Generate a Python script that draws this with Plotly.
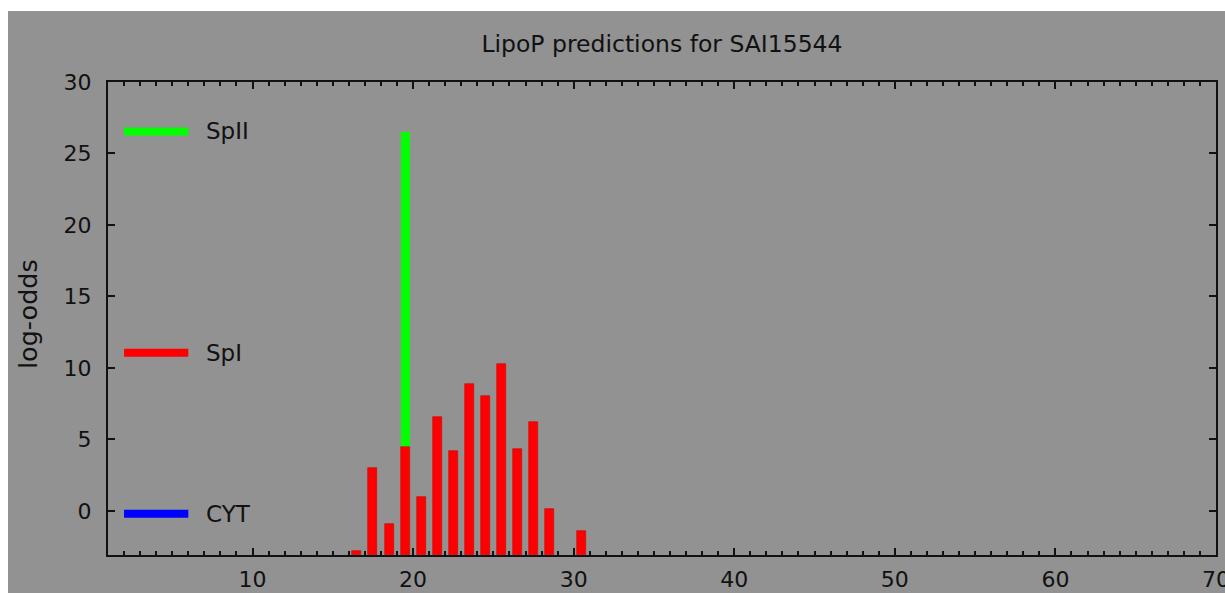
import plotly.graph_objects as go

# ---- data ----
residues = [17, 18, 19, 20, 21, 22, 23, 24, 25, 26, 27, 28, 29, 31]
spI_scores = [-2.82, 3.03, -0.91, 4.45, 1.0, 6.6, 4.22, 8.86, 8.04, 10.3, 4.34, 6.25, 0.17, -1.37]
spII_residues = [20]
spII_scores = [26.5]
class_names = ["SpII", "SpI", "CYT"]
class_scores = [26.54, 11.07, -0.2]
class_colors = ["#00ff00", "#ff0000", "#0000ff"]
x_ticks = [10, 20, 30, 40, 50, 60, 70]
y_ticks = [0, 5, 10, 15, 20, 25, 30]

Y_MIN, Y_MAX = -3.08, 30
X_MIN, X_MAX = 1, 70
FONT = "DejaVu Sans"
W, H = 1225, 593
ML, MR, MT, MB = 108, 9, 82, 38
PW, PH = W - ML - MR, H - MT - MB
BG = "#929292"

fig = go.Figure()

# SpII bars (drawn first, SpI overlays)
fig.add_trace(go.Bar(
    x=[r - 0.5 for r in spII_residues],
    y=[s - Y_MIN for s in spII_scores],
    base=Y_MIN, width=0.56,
    marker=dict(color="#00ff00", line=dict(width=0)),
    showlegend=False, hoverinfo="skip",
))
fig.add_trace(go.Bar(
    x=[r - 0.5 for r in residues],
    y=[s - Y_MIN for s in spI_scores],
    base=Y_MIN, width=0.56,
    marker=dict(color="#ff0000", line=dict(width=0.6, color="#d00000")),
    showlegend=False, hoverinfo="skip",
))

# class key lines at their scores
for name, score, col in zip(class_names, class_scores, class_colors):
    fig.add_trace(go.Scatter(
        x=[2, 6], y=[score, score], mode="lines",
        line=dict(color=col, width=8), showlegend=False, hoverinfo="skip",
    ))
    fig.add_annotation(
        x=7, y=score, xref="x", yref="y", text=name, showarrow=False,
        xanchor="left", yanchor="middle",
        font=dict(family=FONT, size=23, color="#111111"),
    )

# y-axis label
fig.add_annotation(
    x=(28 - ML) / PW, y=(H - MB - 314) / PH, xref="paper", yref="paper", text="log-odds",
    textangle=-90, showarrow=False, xanchor="center", yanchor="middle",
    font=dict(family=FONT, size=25.5, color="#111111"),
)

# white border strips (top and left)
fig.add_shape(type="rect", xref="paper", yref="paper",
              x0=-0.2, x1=1.1, y0=1 + (MT - 11) / PH, y1=1.3,
              fillcolor="white", line=dict(width=0), layer="below")
fig.add_shape(type="rect", xref="paper", yref="paper",
              x0=-0.2, x1=(8 - ML) / PW, y0=-0.2, y1=1.3,
              fillcolor="white", line=dict(width=0), layer="below")

fig.update_layout(
    width=W, height=H,
    margin=dict(l=ML, r=MR, t=MT, b=MB, autoexpand=False),
    paper_bgcolor=BG, plot_bgcolor=BG,
    barmode="overlay", bargap=0,
    title=dict(text="LipoP predictions for SAI15544", x=0.5, xref="paper", xanchor="center",
               y=1 - 44 / H, yanchor="middle", yref="container",
               font=dict(family=FONT, size=23.5, color="#111111")),
    font=dict(family=FONT, size=22, color="#111111"),
)
fig.update_xaxes(
    range=[X_MIN, X_MAX], tickvals=x_ticks, ticktext=[str(t) for t in x_ticks],
    showgrid=False, zeroline=False, automargin=False,
    showline=True, linecolor="#111111", linewidth=2, mirror="allticks",
    ticks="inside", ticklen=7, tickwidth=1.5, tickcolor="#111111",
    minor=dict(ticks="inside", dtick=1, tick0=0, ticklen=4, tickwidth=1.5,
               tickcolor="#111111", showgrid=False),
    ticklabelstandoff=4, ticklabeloverflow="allow",
    tickfont=dict(family=FONT, size=22, color="#111111"),
)
fig.update_yaxes(
    range=[Y_MIN, Y_MAX], tickvals=y_ticks, ticktext=[str(t) for t in y_ticks],
    showgrid=False, zeroline=False, automargin=False,
    showline=True, linecolor="#111111", linewidth=2, mirror="allticks",
    ticks="inside", ticklen=7, tickwidth=1.5, tickcolor="#111111",
    ticklabelstandoff=10,
    tickfont=dict(family=FONT, size=22, color="#111111"),
)

fig.write_html(
    "out.html",
    config={"displayModeBar": False},
    post_script="document.body.style.margin='0';document.body.style.overflow='hidden';",
)
